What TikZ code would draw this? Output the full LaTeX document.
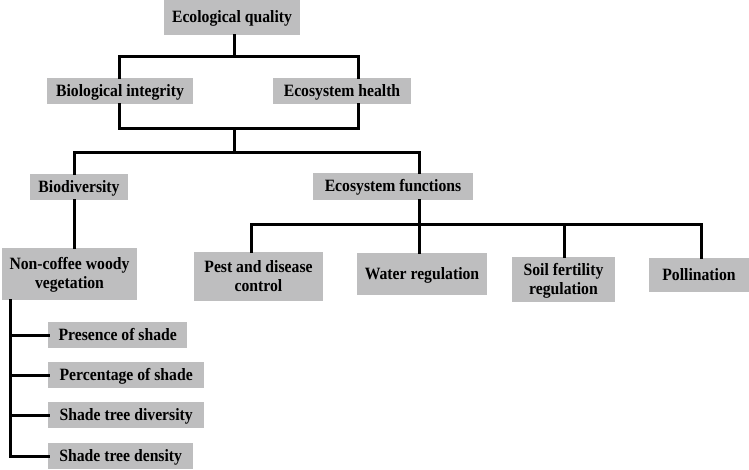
\documentclass[tikz,border=0pt]{standalone}
\usepackage{fontspec}
\setmainfont{Liberation Serif}
\definecolor{boxgray}{RGB}{190,190,191}
\newcommand\boxtext[1]{\raisebox{-1.5pt}[\height][\depth]{\scalebox{1}[1.1]{\begin{tabular}{@{}c@{}}#1\end{tabular}}}}
\tikzset{
  box/.style={fill=boxgray, draw=none, inner sep=0pt, align=center,
    font=\fontsize{15.7}{17.5}\selectfont\bfseries},
  conn/.style={line width=3pt, line join=miter, line cap=rect, black}
}
\begin{document}
\begin{tikzpicture}[x=1pt,y=-1pt]
\useasboundingbox (0,0) rectangle (749,470);
% boxes (centre, width, height)
\node[box, minimum width=136pt, minimum height=35pt] (EQ) at (232,17.5) {\boxtext{Ecological quality}};
\node[box, minimum width=146pt, minimum height=26pt] (BI) at (120,91) {\boxtext{Biological integrity}};
\node[box, minimum width=138pt, minimum height=26pt] (EH) at (342,91) {\boxtext{Ecosystem health}};
\node[box, minimum width=98pt, minimum height=26pt] (BD) at (79,187) {\boxtext{Biodiversity}};
\node[box, minimum width=160pt, minimum height=27pt] (EF) at (393,186.5) {\boxtext{Ecosystem functions}};
\node[box, minimum width=135pt, minimum height=52pt] (NC) at (69.5,274) {\boxtext{Non-coffee woody\\vegetation}};
\node[box, minimum width=129pt, minimum height=49pt] (PD) at (258.5,276.5) {\boxtext{Pest and disease\\control}};
\node[box, minimum width=130pt, minimum height=42pt] (WR) at (422,274) {\boxtext{Water regulation}};
\node[box, minimum width=103pt, minimum height=45pt] (SF) at (563.5,279.5) {\boxtext{Soil fertility\\regulation}};
\node[box, minimum width=100pt, minimum height=34pt] (PO) at (699,275) {\boxtext{Pollination}};
\node[box, minimum width=139pt, minimum height=26pt, anchor=west] (PS) at (48,335) {\boxtext{Presence of shade}};
\node[box, minimum width=156pt, minimum height=26pt, anchor=west] (PC) at (48,375) {\boxtext{Percentage of shade}};
\node[box, minimum width=156pt, minimum height=26pt, anchor=west] (SV) at (48,415) {\boxtext{Shade tree diversity}};
\node[box, minimum width=145pt, minimum height=26pt, anchor=west] (SN) at (48,456) {\boxtext{Shade tree density}};
% guide coordinates
\coordinate (xEQ) at (234,0);
\coordinate (xBI) at (119,0);
\coordinate (xEH) at (358,0);
\coordinate (xBD) at (74,0);
\coordinate (xEF) at (419,0);
\coordinate (xPD) at (251,0);
\coordinate (xSF) at (564,0);
\coordinate (xPO) at (701,0);
\coordinate (xNC) at (10,0);
\coordinate (y1) at (0,57);
\coordinate (y2) at (0,129);
\coordinate (y3) at (0,153);
\coordinate (y4) at (0,225);
% connectors
\draw[conn] (EQ.south -| xEQ) -- (xEQ |- y1);
\draw[conn] (BI.north -| xBI) -- (xBI |- y1) -- (xEH |- y1) -- (EH.north -| xEH);
\draw[conn] (BI.south -| xBI) -- (xBI |- y2) -- (xEH |- y2) -- (EH.south -| xEH);
\draw[conn] (xEQ |- y2) -- (xEQ |- y3);
\draw[conn] (BD.north -| xBD) -- (xBD |- y3) -- (xEF |- y3) -- (EF.north -| xEF);
\draw[conn] (BD.south -| xBD) -- (NC.north -| xBD);
\draw[conn] (EF.south -| xEF) -- (WR.north -| xEF);
\draw[conn] (PD.north -| xPD) -- (xPD |- y4) -- (xPO |- y4) -- (PO.north -| xPO);
\draw[conn] (SF.north -| xSF) -- (xSF |- y4);
\draw[conn] (NC.south -| xNC) -- (xNC |- SN.west) -- (SN.west);
\draw[conn] (xNC |- PS.west) -- (PS.west);
\draw[conn] (xNC |- PC.west) -- (PC.west);
\draw[conn] (xNC |- SV.west) -- (SV.west);
\end{tikzpicture}
\end{document}
